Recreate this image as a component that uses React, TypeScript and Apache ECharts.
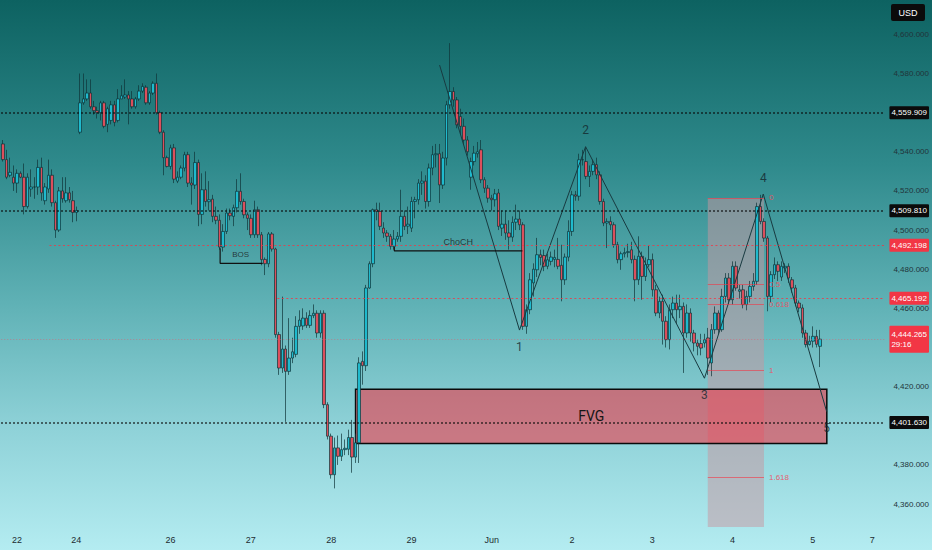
import React, { useEffect, useRef } from 'react';
import * as echarts from 'echarts';

// [open, close, low, high] hourly candles
const candles: number[][] = [
  [4544, 4536, 4535, 4546], [4536, 4527, 4526, 4541], [4528, 4529.5, 4527, 4537], [4527, 4524, 4520, 4533],
  [4524, 4529, 4519, 4531], [4529, 4527, 4526.5, 4530], [4527, 4512, 4508, 4534], [4512, 4527, 4511, 4529],
  [4521, 4522, 4517, 4531], [4522, 4522, 4516, 4527], [4522, 4532, 4518, 4536], [4532, 4519, 4515, 4537],
  [4515, 4522, 4513, 4524], [4521, 4528, 4519, 4536], [4528, 4514, 4512, 4531], [4514, 4500, 4496, 4515],
  [4500, 4520, 4499, 4522], [4520, 4516, 4514, 4527], [4515, 4519, 4514, 4527], [4519, 4515.5, 4514, 4522],
  [4515, 4509, 4504, 4520], [4509, 4510, 4504.5, 4512], [4550, 4565, 4549, 4580], [4565, 4567, 4564, 4580],
  [4567, 4570, 4566, 4577], [4570, 4563, 4562, 4577], [4563, 4561, 4559, 4566], [4561, 4560, 4557, 4563],
  [4560, 4565, 4556, 4566], [4565, 4553, 4552, 4566], [4554, 4562, 4550, 4563], [4556, 4564, 4554, 4566],
  [4564, 4555, 4553, 4566], [4556, 4567, 4555, 4572], [4567, 4568.6, 4567, 4574], [4568, 4569, 4567, 4577],
  [4569, 4567, 4554, 4571], [4567, 4563, 4562, 4571], [4563, 4567, 4562, 4568], [4567, 4571, 4566, 4574],
  [4571, 4573.4, 4570, 4575], [4573, 4565, 4564, 4574], [4565, 4570, 4564, 4571], [4570, 4575, 4569, 4576],
  [4575, 4560, 4559, 4580], [4560, 4550, 4549, 4561], [4550, 4537, 4528, 4551], [4537, 4532.5, 4532, 4538],
  [4532.5, 4542, 4531, 4543.6], [4542, 4526, 4524, 4544], [4525, 4527, 4524, 4530], [4527, 4531.7, 4526, 4533],
  [4531.7, 4538.5, 4530, 4540], [4538.5, 4524, 4522, 4540], [4524, 4523, 4513, 4527], [4523, 4534.5, 4521, 4540],
  [4534.5, 4508, 4502, 4536], [4508, 4520.6, 4503, 4529], [4520.6, 4514.6, 4512, 4530], [4514.5, 4515.5, 4510, 4525],
  [4515.8, 4507, 4504, 4518], [4507, 4505, 4503, 4512], [4505, 4491.3, 4490, 4508], [4491.3, 4499.3, 4489, 4503],
  [4499.3, 4508.7, 4498, 4511], [4508.7, 4507.3, 4505, 4511], [4507, 4511.4, 4502, 4513], [4511.4, 4519.8, 4509, 4526],
  [4519.8, 4514.6, 4513, 4529], [4514.6, 4507.8, 4506, 4516], [4507.8, 4506, 4500, 4509], [4506, 4497.6, 4496, 4508],
  [4497.6, 4510.4, 4496, 4515], [4510.4, 4497.6, 4496, 4512], [4497.6, 4484.9, 4482, 4499], [4485, 4482.8, 4477, 4486],
  [4482.8, 4498, 4481, 4499], [4498, 4490.3, 4489, 4499], [4490.3, 4446.6, 4445, 4491], [4446.6, 4429.5, 4426, 4448],
  [4429.5, 4439.2, 4427, 4466], [4439.2, 4427.8, 4402, 4441], [4427.8, 4434.6, 4426, 4455], [4434.6, 4437.8, 4432, 4445],
  [4436.5, 4450.8, 4435, 4456], [4450.8, 4454, 4447, 4459], [4451, 4455, 4449, 4460], [4455, 4451.3, 4450, 4458],
  [4451.3, 4456.3, 4450, 4459], [4456.3, 4457.5, 4455, 4462], [4457.5, 4447.4, 4445, 4459], [4447.4, 4457.5, 4445, 4459],
  [4457.5, 4410.8, 4409, 4459], [4410.8, 4394.7, 4393, 4412], [4394.7, 4375, 4373, 4396], [4375, 4388.7, 4368, 4394],
  [4388.7, 4384.4, 4380, 4395], [4384.4, 4387.8, 4382, 4396], [4387.8, 4388.5, 4385, 4393], [4388, 4394, 4385, 4398],
  [4394, 4384, 4376, 4403], [4384, 4391.3, 4381, 4396], [4391.3, 4432.1, 4381, 4435], [4432.9, 4430.7, 4421, 4438],
  [4430.7, 4470.4, 4428, 4472], [4470.4, 4482.8, 4470, 4484], [4482.8, 4510.4, 4481, 4511], [4510.4, 4509.5, 4505, 4514],
  [4509.5, 4501.9, 4500, 4514], [4501, 4498.5, 4496, 4504], [4498.5, 4496.8, 4494, 4500], [4496.8, 4491.7, 4490, 4498],
  [4491.7, 4495.4, 4490, 4500], [4495.4, 4496.8, 4494, 4499], [4496.8, 4507, 4494, 4520.6], [4507, 4501.9, 4500, 4510],
  [4502, 4503, 4498, 4512], [4501, 4514.6, 4499, 4517], [4514.6, 4515.5, 4506, 4517], [4515.5, 4524, 4513, 4526],
  [4524, 4525, 4518, 4530], [4525, 4514.6, 4511, 4528], [4514.6, 4531.7, 4512, 4534], [4531.7, 4538.5, 4528, 4543],
  [4538.5, 4539, 4532, 4544], [4539, 4523.1, 4513.8, 4544], [4523, 4536.8, 4521, 4540], [4536.8, 4564, 4533, 4566],
  [4564, 4570.8, 4562, 4595.5], [4570.8, 4566.5, 4563, 4573], [4566.5, 4553.8, 4552, 4568], [4558, 4553, 4549, 4562],
  [4553, 4546, 4544, 4557], [4546, 4540, 4538, 4548], [4527, 4535, 4520.6, 4537], [4535, 4539.3, 4533, 4543],
  [4539, 4540, 4537, 4545], [4541, 4525.7, 4524, 4546], [4525.7, 4521.4, 4519, 4527], [4521.4, 4516.3, 4514, 4523],
  [4516.3, 4515.5, 4510, 4518], [4515.5, 4518.5, 4512, 4521], [4518.9, 4501.9, 4500, 4521], [4501, 4503, 4497, 4510],
  [4503, 4498.5, 4495, 4510], [4498.5, 4496.4, 4490, 4505], [4496.4, 4503.9, 4494, 4507], [4504, 4505.6, 4500, 4513],
  [4505.6, 4502.7, 4500, 4510], [4502.7, 4450.8, 4449, 4504], [4450.8, 4459.3, 4447, 4462], [4459.3, 4474.6, 4457, 4478],
  [4473, 4480, 4466, 4483], [4479.7, 4487.4, 4476, 4496], [4487.4, 4486, 4482, 4490], [4487, 4481.5, 4479, 4490],
  [4481.5, 4484.8, 4480, 4488], [4484, 4486.2, 4482, 4489], [4485, 4486, 4481, 4490], [4485, 4481.5, 4480, 4496],
  [4482, 4474.6, 4463.6, 4492.5], [4474.6, 4486.2, 4472, 4488], [4486.2, 4499.3, 4484, 4505], [4499.3, 4518, 4497, 4520],
  [4518, 4517.3, 4515, 4520], [4517.3, 4535.9, 4515, 4539], [4535.9, 4536, 4533, 4541], [4535, 4527.4, 4526, 4542.5],
  [4527.4, 4530, 4522, 4533], [4530, 4533.4, 4528, 4536], [4533.4, 4528.2, 4526, 4537], [4528.2, 4514.6, 4513, 4530],
  [4514.6, 4503.6, 4502, 4516], [4503.6, 4504.4, 4490.8, 4506], [4504.4, 4502.7, 4500, 4507], [4502.7, 4492.5, 4491, 4504],
  [4492.5, 4484.9, 4483, 4494], [4484.9, 4487.9, 4479.7, 4489], [4487.9, 4488.5, 4486, 4491], [4488.5, 4489, 4486, 4493],
  [4489.9, 4484.9, 4483, 4494], [4485, 4474.6, 4463.6, 4487], [4474.6, 4486.6, 4472, 4496.8], [4486.6, 4476.3, 4464.4, 4489],
  [4476.3, 4482.3, 4474, 4486], [4482.3, 4484.9, 4481, 4492], [4484.9, 4469.5, 4466, 4488], [4469.5, 4457.6, 4456, 4472],
  [4457.6, 4463.6, 4455, 4466], [4463.6, 4453.4, 4441.5, 4467], [4453.4, 4444, 4440, 4456], [4444, 4459.3, 4439, 4462],
  [4459.3, 4462.7, 4455, 4466], [4462.7, 4459.3, 4452, 4467], [4459.3, 4461, 4455, 4467], [4461, 4447.4, 4427, 4463],
  [4447.4, 4457.6, 4445, 4462], [4457.6, 4447.4, 4443, 4460], [4447.4, 4442.3, 4438, 4449], [4442.3, 4440.6, 4436, 4444],
  [4442, 4439.7, 4436, 4447], [4442.3, 4444, 4440, 4447], [4444.9, 4434.6, 4426, 4450], [4432.1, 4449.1, 4425.3, 4452],
  [4449.1, 4457.6, 4447, 4461], [4457.6, 4449.1, 4447, 4459], [4449.1, 4466.1, 4448, 4470], [4466.1, 4475.5, 4463, 4478],
  [4475.5, 4464.4, 4462, 4478], [4464.4, 4481.5, 4462, 4484], [4481.5, 4470.4, 4469, 4484], [4468.7, 4469.5, 4465, 4472],
  [4469.5, 4461.9, 4460, 4472], [4461.9, 4466.1, 4459, 4469], [4466.1, 4471.2, 4463, 4474], [4471.2, 4473.8, 4469, 4478],
  [4473.8, 4512, 4472, 4514], [4512, 4504.4, 4503, 4518], [4504.4, 4495.9, 4494, 4506], [4495.9, 4466.1, 4458.5, 4497],
  [4466.1, 4477.2, 4463, 4479], [4477.2, 4482.3, 4475, 4486], [4482.3, 4478.9, 4474, 4484], [4476, 4481.5, 4474, 4484],
  [4480.6, 4481.5, 4478, 4483], [4481.5, 4475.5, 4473, 4483], [4474.6, 4470.4, 4468, 4476], [4470.4, 4462.7, 4461, 4472],
  [4462.7, 4460.2, 4458, 4464], [4460.2, 4447.4, 4445, 4462], [4447.4, 4441.5, 4440, 4449], [4441.5, 4443.2, 4441, 4446],
  [4443.2, 4445.7, 4440, 4450.8], [4445.7, 4441.6, 4440, 4449], [4440.6, 4444.265, 4430, 4449],
];

const TOTAL_SLOTS = 253;
const dateTicks: [number, string][] = [
  [4, '22'], [21, '24'], [48, '26'], [71, '27'], [94, '28'], [117, '29'],
  [140, 'Jun'], [163, '2'], [186, '3'], [209, '4'], [232, '5'], [249, '7'],
];
const hiddenPriceTicks = [4560, 4440, 4400];
const Y_MIN = 4340;
const Y_MAX = 4617.55;

const blackLevels = [4559.909, 4509.81, 4401.63];
// [start slot, price]
const redLevels: [number, number][] = [[13.3, 4492.198], [78.6, 4465.192]];
const lastPrice = 4444.265;
const countdown = '29:16';

const zigzag: [number, number][] = [
  [125.07, 4584.3], [147.96, 4448.9], [166.9, 4542.6], [200.95, 4424.3], [217.8, 4518.4], [235.97, 4407.2],
];
const waveNames = ['', '1', '2', '3', '4', '5'];
const bosLine: [number, number][] = [[62.2, 4490.7], [62.2, 4483.0], [74.4, 4483.0]];
const bosText: [number, number] = [68.1, 4487.4];
const chochLine: [number, number][] = [[112.1, 4491.5], [112.1, 4489.4], [148.8, 4489.4]];
const chochText: [number, number] = [130.4, 4494.0];

const fvgZone = { x0: 101, x1: 236, top: 4418.6, bottom: 4391.0 };
const fibBand = { x0: 201.9, x1: 218, top: 4516.4, bottom: 4348.25 };
const fibZero = 4516.4;
const fibOne = 4428.2;
const fibRatios = [0, 0.5, 0.618, 1, 1.618];

const AXIS_FONT = "'Liberation Sans', Arial, sans-serif";

const fmtPrice = (v: number) => {
  const [i, d] = v.toFixed(3).split('.');
  return i.replace(/\B(?=(\d{3})+(?!\d))/g, ',') + '.' + d;
};

export default function App() {
  const ref = useRef<HTMLDivElement>(null);
  useEffect(() => {
    if (!ref.current) return;
    const chart = echarts.init(ref.current, undefined, { renderer: 'svg' });
    const cats = Array.from({ length: TOTAL_SLOTS }, (_, i) => {
      const t = dateTicks.find((d) => d[0] === i);
      return t ? t[1] : '';
    });
    const X_END = TOTAL_SLOTS - 0.5;

    const boxLabel = (text: string, bg: string) => ({
      show: true,
      position: 'end',
      distance: 5,
      formatter: text,
      color: '#ffffff',
      backgroundColor: bg,
      padding: [3, 2, 2, 2],
      fontSize: 8,
      fontFamily: AXIS_FONT,
      borderRadius: 1,
    });

    const priceLines: any[] = [];
    blackLevels.forEach((p) => {
      priceLines.push([
        {
          coord: [-0.5, p],
          lineStyle: { color: '#0a0a0a', width: 1.5, type: [1.5, 2.5] },
          label: boxLabel(fmtPrice(p), '#0b0b0b'),
        },
        { coord: [X_END, p] },
      ]);
    });
    redLevels.forEach(([s, p]) => {
      priceLines.push([
        {
          coord: [s, p],
          lineStyle: { color: 'rgba(242,54,69,0.8)', width: 1, type: [2, 2.5] },
          label: boxLabel(fmtPrice(p), '#f23645'),
        },
        { coord: [X_END, p] },
      ]);
    });
    priceLines.push([
      {
        coord: [-0.5, lastPrice],
        lineStyle: { color: 'rgba(225,90,110,0.55)', width: 1, type: [1, 2] },
        label: {
          ...boxLabel(fmtPrice(lastPrice) + '\n' + countdown, '#f23645'),
          lineHeight: 10,
          padding: [4, 2, 3, 2],
        },
      },
      { coord: [X_END, lastPrice] },
    ]);

    const fibLines = fibRatios.map((r) => {
      const p = fibZero - r * (fibZero - fibOne);
      return [
        {
          coord: [fibBand.x0, p],
          label: {
            show: true,
            position: 'end',
            distance: 5,
            formatter: String(r),
            color: 'rgba(236,80,95,0.9)',
            fontSize: 8,
            fontFamily: AXIS_FONT,
          },
        },
        { coord: [fibBand.x1, p] },
      ];
    });

    const option: any = {
      animation: false,
      backgroundColor: 'transparent',
      grid: { left: 0, right: 47, top: 0, bottom: 6.8, containLabel: false },
      xAxis: [
        {
          type: 'category',
          data: cats,
          boundaryGap: true,
          offset: -16.2,
          axisLine: { show: false },
          axisTick: { show: false },
          splitLine: { show: false },
          axisLabel: { interval: 0, color: '#1d2c31', fontSize: 9, margin: 8, fontFamily: AXIS_FONT },
        },
        { type: 'value', min: -0.5, max: X_END, show: false, splitLine: { show: false } },
      ],
      yAxis: {
        type: 'value',
        position: 'right',
        min: Y_MIN,
        max: Y_MAX,
        interval: 20,
        axisLine: { show: false },
        axisTick: { show: false },
        splitLine: { show: false },
        axisLabel: {
          showMinLabel: false,
          showMaxLabel: false,
          margin: 9,
          color: '#22343a',
          fontSize: 8,
          fontFamily: AXIS_FONT,
          formatter: (v: number) => (hiddenPriceTicks.includes(v) || v > 4610 ? '' : fmtPrice(v)),
        },
      },
      series: [
        {
          type: 'line',
          xAxisIndex: 1,
          data: [],
          markArea: {
            silent: true,
            data: [
              [
                { coord: [fibBand.x0, fibBand.top], itemStyle: { color: 'rgba(200,150,160,0.5)' } },
                { coord: [fibBand.x1, fibBand.bottom] },
              ],
              [
                {
                  coord: [fvgZone.x0, fvgZone.top],
                  itemStyle: { color: 'rgba(242,54,69,0.58)', borderColor: '#0a0a0a', borderWidth: 1.5 },
                  label: { show: true, position: 'inside', formatter: 'FVG', fontSize: 14, color: '#161616', fontFamily: 'Roboto, sans-serif' },
                },
                { coord: [fvgZone.x1, fvgZone.bottom] },
              ],
            ],
          },
        },
        {
          type: 'candlestick',
          xAxisIndex: 0,
          data: candles,
          barWidth: 3,
          itemStyle: {
            color: '#1fbacd',
            color0: '#dc4f5c',
            borderColor: '#0f3438',
            borderColor0: '#0f3438',
            borderWidth: 0.7,
          },
          z: 3,
        },
        {
          type: 'line',
          xAxisIndex: 1,
          data: zigzag,
          symbol: 'none',
          lineStyle: { color: '#183a40', width: 1 },
          z: 4,
          markLine: { silent: true, symbol: ['none', 'none'], data: priceLines },
        },
        {
          type: 'line',
          xAxisIndex: 1,
          data: [],
          markLine: {
            silent: true,
            symbol: ['none', 'none'],
            lineStyle: { color: 'rgba(242,54,69,0.6)', width: 1, type: 'solid' },
            data: fibLines,
          },
        },
        {
          type: 'line',
          xAxisIndex: 1,
          data: bosLine,
          symbol: 'none',
          lineStyle: { color: '#111', width: 1.2 },
          z: 4,
        },
        {
          type: 'line',
          xAxisIndex: 1,
          data: chochLine,
          symbol: 'none',
          lineStyle: { color: '#111', width: 1.2 },
          z: 4,
        },
        {
          type: 'scatter',
          xAxisIndex: 1,
          symbolSize: 1,
          itemStyle: { color: 'transparent' },
          z: 6,
          data: [
            ...zigzag.slice(1).map((pt, i) => ({
              value: pt,
              label: {
                show: true,
                formatter: waveNames[i + 1],
                position: i % 2 === 0 ? 'bottom' : 'top',
                distance: 10,
                fontSize: 12,
                color: '#14262b',
                fontFamily: 'Roboto, sans-serif',
              },
            })),
            {
              value: bosText,
              label: { show: true, formatter: 'BOS', position: 'inside', fontSize: 8, color: '#1a1a1a', fontFamily: AXIS_FONT },
            },
            {
              value: chochText,
              label: { show: true, formatter: 'ChoCH', position: 'inside', fontSize: 9, color: '#1a1a1a', fontFamily: AXIS_FONT },
            },
          ],
        },
      ],
      graphic: [
        {
          type: 'group',
          right: 7,
          top: 4,
          children: [
            { type: 'rect', shape: { x: 0, y: 0, width: 34, height: 17, r: 2 }, style: { fill: '#0b0b0b' } },
            {
              type: 'text',
              x: 17,
              y: 8.5,
              style: { text: 'USD', fill: '#fff', fontSize: 9, fontFamily: AXIS_FONT, align: 'center', verticalAlign: 'middle' },
            },
          ],
        },
      ],
    };
    chart.setOption(option);
    return () => chart.dispose();
  }, []);

  return (
    <div
      ref={ref}
      style={{
        position: 'fixed',
        left: 0,
        top: 0,
        width: 932,
        height: 550,
        background: 'linear-gradient(180deg, #0d6261 0%, #2f8a8c 30%, #5fb1b5 55%, #8fd2d8 78%, #b4ecf1 100%)',
      }}
    />
  );
}
